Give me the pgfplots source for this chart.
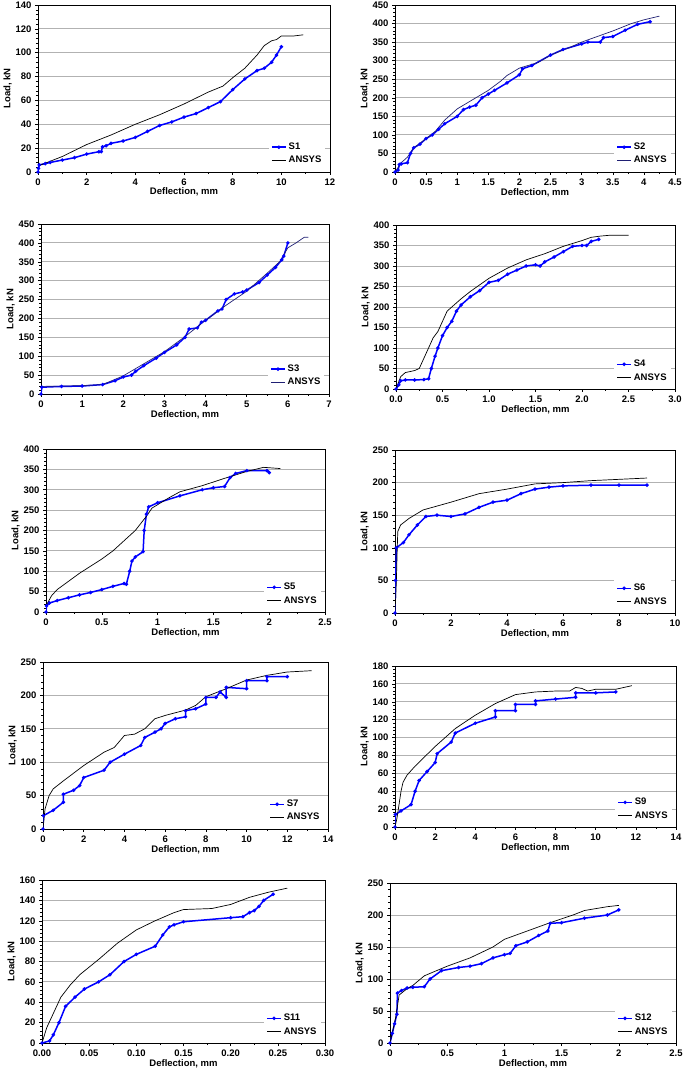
\documentclass[border=0pt]{standalone}
\usepackage{pgfplots}
\pgfplotsset{compat=1.18}
\usepackage{fontspec}
\setmainfont{Liberation Sans}
\definecolor{navy}{rgb}{0.12,0.12,0.45}
\pgfplotsset{
  panel/.style={
    scale only axis, anchor=south west,
    axis line style={black, line width=0.8pt},
    ymajorgrids, grid style={gray!60, line width=0.8pt},
    xtick pos=left, ytick pos=left, tick align=outside,
    tick style={black, line width=0.5pt},
    major tick length=3pt, minor tick length=2pt,
    minor x tick num=1, minor y tick num=4,
    /pgf/number format/assume math mode=true,
    tick label style={font=\fontsize{9.5}{10}\selectfont\bfseries},
    label style={font=\fontsize{9.5}{10}\selectfont\bfseries},
    xlabel={Deflection, mm}, ylabel={Load, kN},
    xlabel style={yshift=4pt}, ylabel style={yshift=-3pt},
    legend style={draw=none, fill=white, at={(0.985,0.02)}, anchor=south east,
      font=\fontsize{9.5}{10}\selectfont\bfseries, row sep=1pt, inner sep=2pt},
    legend cell align=left,
    legend image code/.code={\draw[mark repeat=2,mark phase=2,##1] plot coordinates {(0pt,0pt) (7pt,0pt) (14pt,0pt)};},
  },
  exp/.style={color=blue, line width=1.5pt, mark=*, mark size=0.9pt, mark options={fill=blue}},
  ans/.style={color=black, line width=0.7pt, mark=none},
}
\begin{document}
\begin{tikzpicture}
\path[use as bounding box] (0pt,0pt) rectangle (685pt,1079pt);

% S1
\begin{axis}[panel, at={(38pt,907pt)}, width=292pt, height=167pt,
  xmin=0, xmax=12, ymin=0, ymax=140, xtick distance=2, ytick distance=20]
\addplot[exp] coordinates {(0,0) (0.02,3) (0.05,6) (0.3,7) (0.5,8) (1,10) (1.5,12) (2,15) (2.5,17) (2.6,17) (2.65,21) (2.8,22) (3,24) (3.5,26) (4,29) (4.5,34) (5,39) (5.5,42) (6,46) (6.5,49) (7,54) (7.5,59) (8,69) (8.5,78) (9,85) (9.3,87) (9.6,92) (9.8,98) (10,105)};
\addlegendentry{S1}
\addplot[ans] coordinates {(0,5) (0.5,9) (1,13) (1.5,18) (2,23) (3,31) (4,40) (5,48) (6,57) (7,67) (7.6,72) (8,79) (8.5,87) (9,98) (9.3,106) (9.6,110) (9.8,111) (10,114) (10.5,114) (10.9,115)};
\addlegendentry{ANSYS}
\end{axis}

% S2
\begin{axis}[panel, at={(395pt,907pt)}, width=280pt, height=167pt,
  xmin=0, xmax=4.5, ymin=0, ymax=450, xtick distance=0.5, ytick distance=50]
\addplot[exp] coordinates {(0,0) (0.05,5) (0.07,20) (0.1,22) (0.2,25) (0.25,50) (0.3,65) (0.4,75) (0.5,90) (0.6,100) (0.7,115) (0.8,130) (1,150) (1.1,168) (1.2,175) (1.3,180) (1.4,200) (1.5,210) (1.6,220) (1.8,240) (2,262) (2.05,278) (2.2,287) (2.5,315) (2.7,330) (3,345) (3.1,350) (3.3,350) (3.35,362) (3.5,365) (3.7,382) (3.9,398) (4.1,405)};
\addlegendentry{S2}
\addplot[ans, color=navy] coordinates {(0,0) (0.1,25) (0.2,40) (0.3,65) (0.5,90) (0.65,110) (0.8,140) (1,170) (1.2,190) (1.5,220) (1.7,245) (1.8,260) (2,280) (2.3,295) (2.5,315) (2.8,335) (3,350) (3.5,380) (3.8,400) (4,410) (4.25,420)};
\addlegendentry{ANSYS}
\end{axis}

% S3
\begin{axis}[panel, at={(41pt,685pt)}, width=288pt, height=170pt,
  xmin=0, xmax=7, ymin=0, ymax=450, xtick distance=1, ytick distance=50]
\addplot[exp] coordinates {(0,0) (0.02,18) (0.5,20) (1,21) (1.5,25) (1.8,35) (2,45) (2.2,50) (2.3,60) (2.5,75) (2.8,95) (3,110) (3.3,130) (3.5,150) (3.6,172) (3.8,175) (3.9,190) (4,195) (4.3,220) (4.4,225) (4.5,250) (4.7,265) (4.9,270) (5,275) (5.3,295) (5.5,315) (5.7,335) (5.85,355) (5.9,365) (6,400)};
\addlegendentry{S3}
\addplot[ans, color=navy] coordinates {(0,20) (1,22) (1.5,25) (2,48) (2.5,80) (3,112) (3.5,152) (4,195) (4.5,235) (5,272) (5.5,320) (5.8,350) (6,387) (6.2,400) (6.4,415) (6.5,415)};
\addlegendentry{ANSYS}
\end{axis}

% S4
\begin{axis}[panel, at={(396pt,690pt)}, width=279pt, height=164pt,
  xmin=0, xmax=3, ymin=0, ymax=400, xtick distance=0.5, ytick distance=50,
  xticklabel style={/pgf/number format/.cd, fixed, fixed zerofill, precision=1}]
\addplot[exp] coordinates {(0,0) (0.03,10) (0.05,20) (0.1,22) (0.2,22) (0.3,23) (0.35,25) (0.38,50) (0.42,80) (0.45,100) (0.5,130) (0.55,150) (0.6,165) (0.65,190) (0.7,205) (0.8,225) (0.9,240) (1,260) (1.1,265) (1.2,280) (1.3,290) (1.4,300) (1.5,303) (1.55,300) (1.6,310) (1.7,322) (1.8,335) (1.9,348) (2,350) (2.05,350) (2.1,360) (2.18,365)};
\addlegendentry{S4}
\addplot[ans] coordinates {(0,0) (0.05,30) (0.1,40) (0.2,45) (0.25,50) (0.3,75) (0.35,100) (0.4,125) (0.45,140) (0.5,165) (0.55,190) (0.6,200) (0.7,220) (0.8,238) (1,270) (1.2,295) (1.4,315) (1.6,330) (1.8,348) (2,362) (2.1,370) (2.2,373) (2.3,375) (2.5,375)};
\addlegendentry{ANSYS}
\end{axis}

% S5
\begin{axis}[panel, at={(46pt,467pt)}, width=279pt, height=163pt,
  xmin=0, xmax=2.5, ymin=0, ymax=400, xtick distance=0.5, ytick distance=50]
\addplot[exp] coordinates {(0,0) (0.005,15) (0.03,22) (0.1,28) (0.2,35) (0.3,42) (0.4,48) (0.5,55) (0.6,63) (0.7,70) (0.72,68) (0.75,100) (0.77,125) (0.8,135) (0.87,148) (0.88,200) (0.9,240) (0.92,258) (1,268) (1.2,285) (1.4,300) (1.5,305) (1.6,308) (1.65,330) (1.7,340) (1.8,347) (1.98,347) (2,342)};
\addlegendentry{S5}
\addplot[ans] coordinates {(0,15) (0.05,40) (0.1,55) (0.2,75) (0.3,95) (0.5,130) (0.6,150) (0.8,200) (0.9,235) (0.95,255) (1.1,280) (1.2,295) (1.4,310) (1.6,328) (1.8,345) (1.95,355) (2.1,352)};
\addlegendentry{ANSYS}
\end{axis}

% S6
\begin{axis}[panel, at={(395pt,466pt)}, width=280pt, height=163pt,
  xmin=0, xmax=10, ymin=0, ymax=250, xtick distance=2, ytick distance=50]
\addplot[exp] coordinates {(0,0) (0.02,50) (0.05,100) (0.3,108) (0.5,120) (0.8,135) (1.1,148) (1.5,150) (2,148) (2.5,152) (3,162) (3.5,170) (4,173) (4.5,183) (5,190) (5.5,193) (6,195) (7,196) (8,196) (9,196)};
\addlegendentry{S6}
\addplot[ans] coordinates {(0,0) (0.05,50) (0.08,100) (0.1,125) (0.2,135) (0.5,145) (1,158) (2,170) (3,183) (4,190) (5,198) (6,200) (7,203) (8,205) (9,207)};
\addlegendentry{ANSYS}
\end{axis}

% S7
\begin{axis}[panel, at={(43pt,250pt)}, width=285pt, height=167pt,
  xmin=0, xmax=14, ymin=0, ymax=250, xtick distance=2, ytick distance=50]
\addplot[exp] coordinates {(0,0) (0.02,20) (0.5,28) (1,40) (1,52) (1.5,58) (1.8,65) (2,77) (3,88) (3.3,100) (4,112) (4.8,125) (5,137) (5.5,145) (5.8,150) (6,158) (6.5,165) (7,168) (7,177) (7.5,180) (8,187) (8,197) (8.5,197) (8.7,205) (9,197) (9,212) (10,210) (10,222) (11,222) (11,228) (12,228)};
\addlegendentry{S7}
\addplot[ans] coordinates {(0,0) (0.1,30) (0.3,50) (0.5,60) (1,72) (2,95) (3,115) (3.5,122) (4,140) (4.5,142) (5,150) (5.5,165) (6,170) (7,178) (7.5,185) (8,198) (9,210) (10,223) (11,230) (12,235) (13.2,237)};
\addlegendentry{ANSYS}
\end{axis}

% S9
\begin{axis}[panel, at={(395pt,252pt)}, width=281pt, height=161pt,
  xmin=0, xmax=14, ymin=0, ymax=180, xtick distance=2, ytick distance=20]
\addplot[exp] coordinates {(0,0) (0.02,14) (0.3,18) (0.8,25) (1,40) (1.2,52) (1.6,62) (2,72) (2.1,82) (2.8,95) (3,105) (4,116) (5,123) (5,130) (6,130) (6,137) (7,137) (7,141) (8,143) (9,145) (9,150) (10,150) (11,151)};
\addlegendentry{S9}
\addplot[ans] coordinates {(0,0) (0.1,10) (0.2,25) (0.3,40) (0.4,50) (0.6,58) (1,68) (2,90) (3,110) (4,125) (5,138) (6,148) (7,151) (8,152) (8.7,152) (9,156) (9.3,155) (9.6,152) (10,154) (11,154) (11.8,158)};
\addlegendentry{ANSYS}
\end{axis}

% S11
\begin{axis}[panel, at={(42pt,36pt)}, width=283pt, height=163pt,
  xmin=0, xmax=0.3, ymin=0, ymax=160, xtick distance=0.05, ytick distance=20,
  xticklabel style={/pgf/number format/.cd, fixed, fixed zerofill, precision=2}]
\addplot[exp] coordinates {(0,0) (0.008,2) (0.012,8) (0.018,20) (0.025,36) (0.035,45) (0.045,53) (0.06,60) (0.072,67) (0.087,80) (0.1,87) (0.12,95) (0.128,106) (0.135,114) (0.14,116) (0.15,119) (0.2,123) (0.213,124) (0.22,128) (0.225,130) (0.23,134) (0.235,140) (0.245,146)};
\addlegendentry{S11}
\addplot[ans] coordinates {(0,0) (0.005,15) (0.01,25) (0.02,45) (0.03,57) (0.04,67) (0.06,82) (0.08,98) (0.1,111) (0.12,120) (0.14,128) (0.15,131) (0.18,132) (0.2,136) (0.22,143) (0.24,148) (0.26,152)};
\addlegendentry{ANSYS}
\end{axis}

% S12
\begin{axis}[panel, at={(390pt,36pt)}, width=286pt, height=160pt,
  xmin=0, xmax=2.5, ymin=0, ymax=250, xtick distance=0.5, ytick distance=50]
\addplot[exp] coordinates {(0,0) (0.02,15) (0.04,30) (0.06,45) (0.065,78) (0.1,82) (0.15,86) (0.2,87) (0.3,88) (0.35,100) (0.45,113) (0.6,118) (0.7,120) (0.8,124) (0.9,133) (1,138) (1.05,140) (1.1,152) (1.2,158) (1.3,168) (1.38,175) (1.4,187) (1.5,188) (1.7,195) (1.9,200) (2,208)};
\addlegendentry{S12}
\addplot[ans] coordinates {(0,0) (0.05,40) (0.08,75) (0.15,85) (0.2,90) (0.3,105) (0.5,120) (0.7,133) (0.9,150) (1,162) (1.2,175) (1.4,188) (1.6,200) (1.7,207) (1.9,213) (2,215)};
\addlegendentry{ANSYS}
\end{axis}
\end{tikzpicture}
\end{document}
